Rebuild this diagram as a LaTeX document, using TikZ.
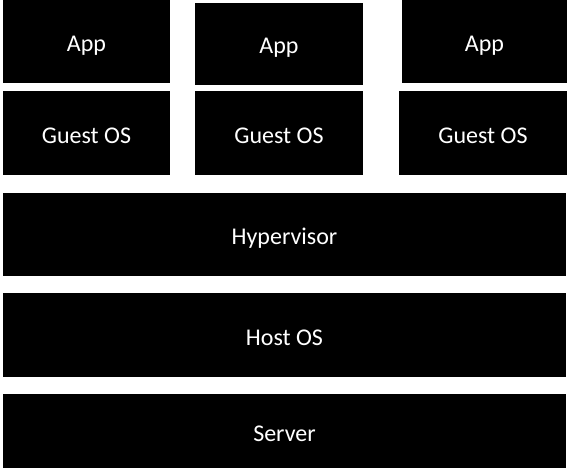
\documentclass[tikz,border=0pt]{standalone}
\usepackage{fontspec}
\setmainfont{Carlito}
\usepackage{tikz}

\begin{document}
\begin{tikzpicture}[x=1pt,y=-1pt,
  katman/.style={fill=black,text=white,inner sep=0pt,text height=22pt,text depth=2pt,
    font=\fontsize{24}{27}\selectfont},
  kutu/.style={katman,minimum width=167pt,minimum height=83pt}]
\useasboundingbox (0,0) rectangle (569,468);
% sanal makineler
\node[kutu] (app1) at (86.5,41.5) {App};
\node[kutu,minimum height=84pt] (guest1) at (86.5,133) {Guest OS};
\node[kutu,minimum width=168pt,minimum height=82pt] (app2) at (279,44) {App};
\node[kutu,minimum width=168pt,minimum height=84pt] (guest2) at (279,133) {Guest OS};
\node[kutu,minimum width=165pt] (app3) at (484.5,41.5) {App};
\node[kutu,minimum width=168pt,minimum height=84pt] (guest3) at (483,133) {Guest OS};
% alt katmanlar
\node[katman,minimum width=563pt,minimum height=83pt] (hyp) at (284.5,234.5) {Hypervisor};
\node[katman,minimum width=563pt,minimum height=84pt] (host) at (284.5,335) {Host OS};
\node[katman,minimum width=563pt,minimum height=74pt] (server) at (284.5,431) {Server};
\end{tikzpicture}
\end{document}
